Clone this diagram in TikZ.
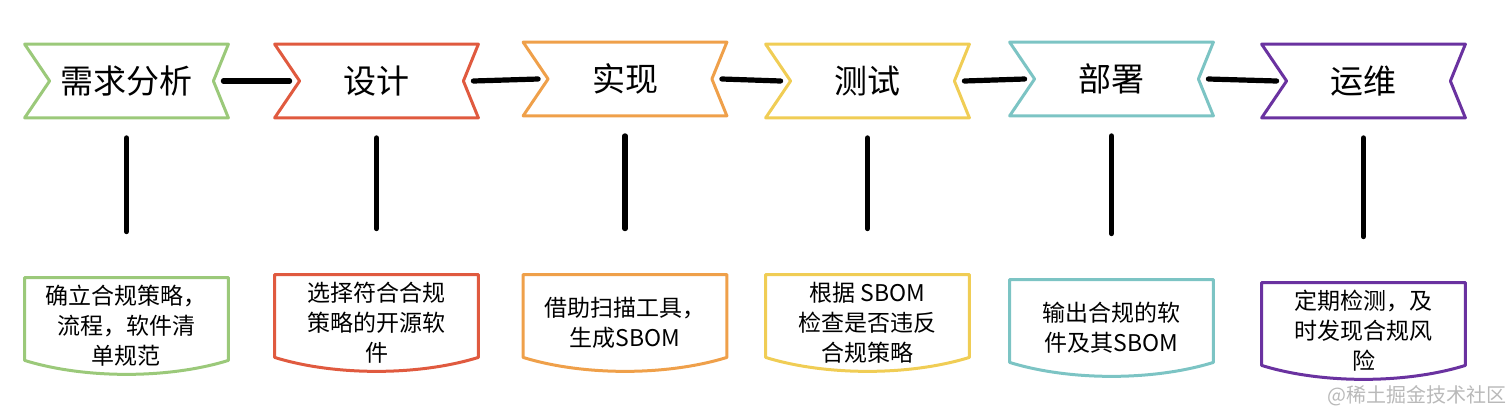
\documentclass[tikz,border=0pt]{standalone}
\usepackage{fontspec}
\newfontfamily\cjk{Noto Sans CJK SC}
\usepackage{tikz}
\definecolor{cgreen}{HTML}{9BC97A}
\definecolor{cred}{HTML}{E05A3F}
\definecolor{corange}{HTML}{EFA04A}
\definecolor{cyellow}{HTML}{F0CD55}
\definecolor{cteal}{HTML}{7CC4C4}
\definecolor{cpurple}{HTML}{6A32A0}

\begin{document}
\begin{tikzpicture}[x=0.5pt,y=-0.5pt,line cap=round,line join=round,
  stage/.style={minimum width=101.5pt,minimum height=36.5pt,inner sep=0pt,
    font=\cjk\fontsize{16.5pt}{20pt}\selectfont},
  task/.style={minimum width=101.5pt,minimum height=48pt,inner sep=0pt,
    align=center,font=\cjk\fontsize{11.5pt}{15pt}\selectfont},
  brush/.style={line width=2.6pt,black},
  edge/.style={line width=1.5pt}]
  \useasboundingbox (0,0) rectangle (1512,419);
  \foreach \n/\x/\c/\ty/\by/\lab/\txt in
   {1/126.5/cgreen/81/326/需求分析/{确立合规策略，\\流程，软件清\\单规范},
    2/376.5/cred/81/323/设计/{选择符合合规\\策略的开源软\\件},
    3/625/corange/79/323/实现/{借助扫描工具，\\生成SBOM},
    4/867.5/cyellow/81/323/测试/{根据 SBOM\\检查是否违反\\合规策略},
    5/1111.5/cteal/79/328/部署/{输出合规的软\\件及其SBOM},
    6/1363.5/cpurple/81/331/运维/{定期检测，及\\时发现合规风\\险}}{
    \node[stage] (t\n) at (\x,\ty) {\lab};
    \draw[edge,\c] (t\n.north west) -- (t\n.north east)
      -- ([xshift=-7.5pt]t\n.east) -- (t\n.south east)
      -- (t\n.south west) -- ([xshift=12.5pt]t\n.west) -- cycle;
    \node[task] (b\n) at (\x,\by) {\txt};
    \draw[edge,\c] (b\n.north west) -- (b\n.north east)
      -- ([yshift=7pt]b\n.south east)
      .. controls ([xshift=-30pt,yshift=-2.3pt]b\n.south east)
      and ([xshift=30pt,yshift=-2.3pt]b\n.south west)
      .. ([yshift=7pt]b\n.south west) -- cycle;
    \draw[brush] ([yshift=-10pt]t\n.south) -- ([yshift=23pt]b\n.north);
  }
  \foreach \a/\b in {1/2,2/3,3/4,4/5,5/6}
    \draw[brush] ([xshift=-2.5pt]t\a.east) -- ([xshift=7.5pt]t\b.west);
  \node[font=\cjk\fontsize{10pt}{12pt}\selectfont,text=gray!55] (wm)
    at (1417,396) {@稀土掘金技术社区};
\end{tikzpicture}
\end{document}
